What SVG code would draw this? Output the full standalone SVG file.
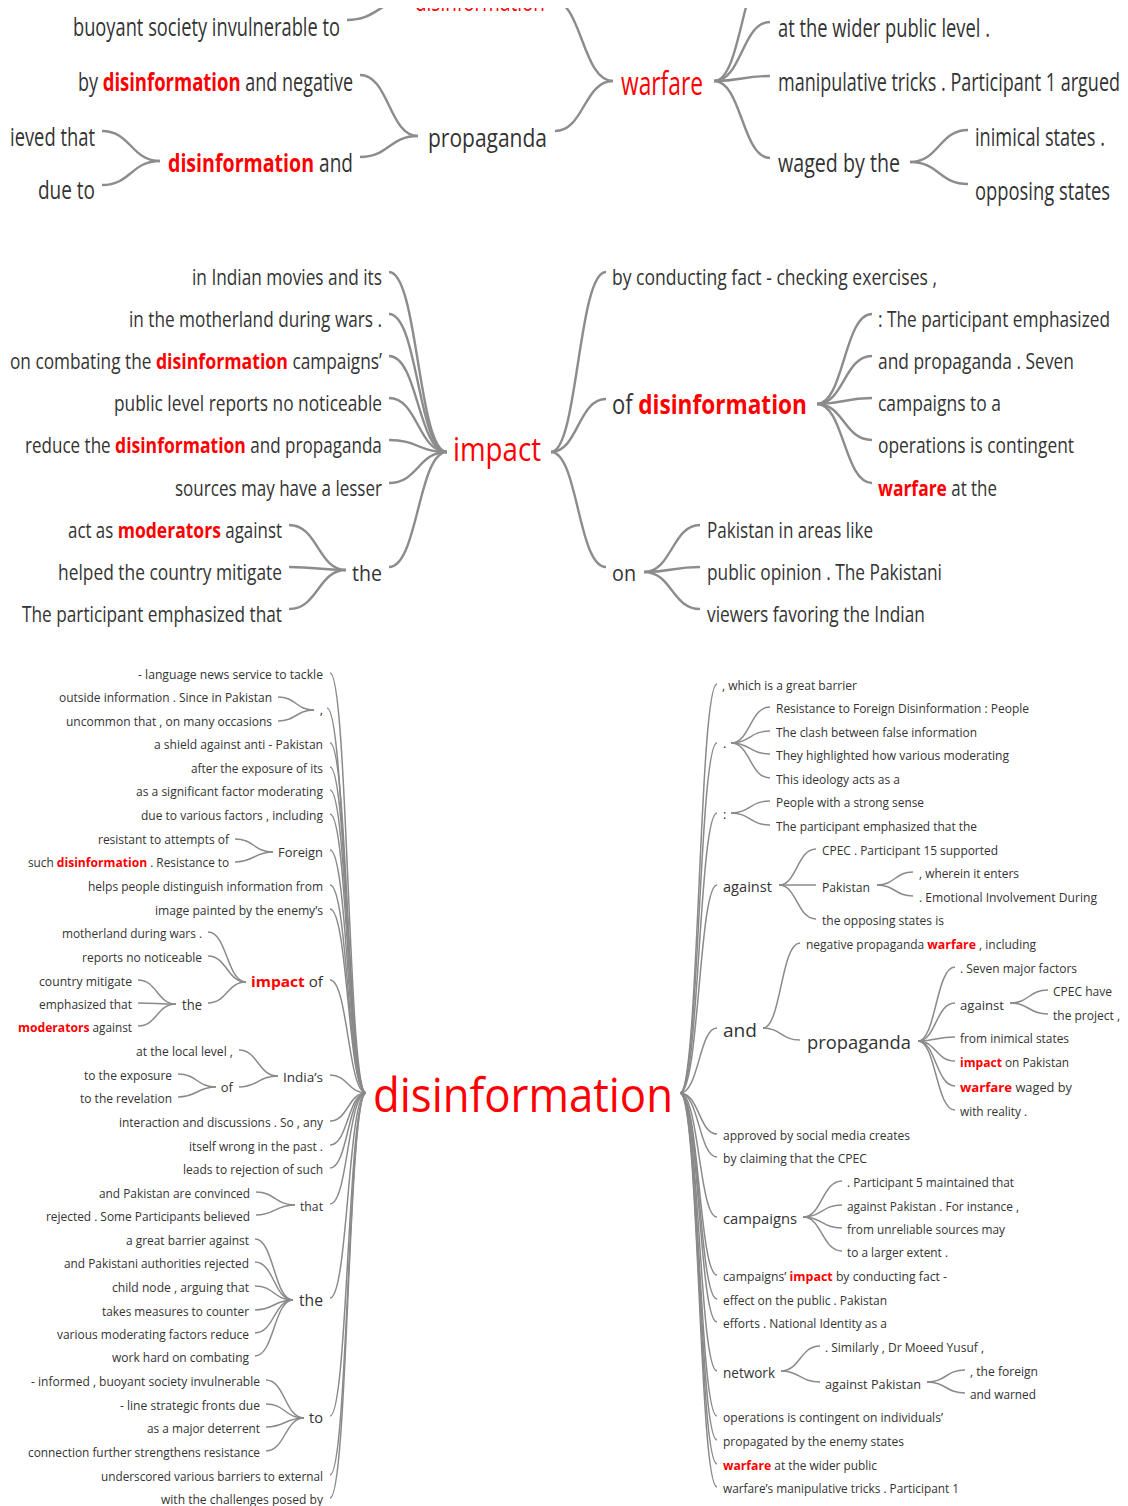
<svg xmlns="http://www.w3.org/2000/svg" width="1128" height="1506" viewBox="0 0 1128 1506">
<style>
text{font-family:"Open Sans","Noto Sans","Liberation Sans",sans-serif;fill:#333}
.e{text-anchor:end}
.p1{font-size:25px}
.p2{font-size:21px}
.s{font-size:12px}
.m13{font-size:13px}
.m14{font-size:14px}
.m15{font-size:15px}
.m19{font-size:19px}
.h{fill:#f00;font-weight:700}
.red{fill:#f00}
.lk path{fill:none;stroke:#8c8c8c;stroke-width:2.4}
.lk3 path{fill:none;stroke:#8a8a8a;stroke-width:1.5}
</style>
<defs>
<clipPath id="c1"><rect x="8" y="8" width="1114" height="198"/></clipPath>
</defs>
<rect width="1128" height="1506" fill="#fff"/>

<!-- PANEL 1 -->
<g clip-path="url(#c1)">
<g class="lk" id="p1-links">
<path d="M347,20 C378,20 378,0 410,0"/>
<path d="M360,75 C389,75 389,136 418,136"/>
<path d="M360,157 C389,157 389,136 418,136"/>
<path d="M102,131 C131,131 131,161 160,161"/>
<path d="M102,185 C131,185 131,161 160,161"/>
<path d="M555,131 C584,131 584,81 613,81"/>
<path d="M552,0 C582,0 582,81 613,81"/>
<path d="M714,81 C742,81 742,-35 770,-35"/>
<path d="M714,81 C742,81 742,22 770,22"/>
<path d="M714,81 C742,81 742,76 770,76"/>
<path d="M714,81 C742,81 742,158 770,158"/>
<path d="M910,162 C939,162 939,130 968,130"/>
<path d="M910,162 C939,162 939,184 968,184"/>
</g>
<g transform="scale(0.74,1)">
<g id="p1-disinformation-top"><text class="p1 red" x="560.81" y="11" textLength="175.68" lengthAdjust="spacingAndGlyphs">disinformation</text></g>
<g id="p1-buoyant"><text class="p1 e" x="459.46" y="36" textLength="360.81" lengthAdjust="spacingAndGlyphs">buoyant society invulnerable to</text></g>
<g id="p1-by-disinformation">
<text class="p1" x="105.41" y="91" textLength="27.03" lengthAdjust="spacingAndGlyphs">by</text>
<text class="p1 h" x="138.78" y="91" textLength="186.35" lengthAdjust="spacingAndGlyphs">disinformation</text>
<text class="p1" x="331.49" y="91" textLength="145.54" lengthAdjust="spacingAndGlyphs">and negative</text>
</g>
<g id="p1-ieved-that"><text class="p1 e" x="128.38" y="146" textLength="114.86" lengthAdjust="spacingAndGlyphs">ieved that</text></g>
<g id="p1-due-to"><text class="p1 e" x="128.38" y="199" textLength="77.03" lengthAdjust="spacingAndGlyphs">due to</text></g>
<g id="p1-disinformation-and">
<text class="p1 h" x="227.03" y="172" textLength="197.43" lengthAdjust="spacingAndGlyphs">disinformation</text>
<text class="p1" x="431.22" y="172" textLength="45.81" lengthAdjust="spacingAndGlyphs">and</text>
</g>
<g id="p1-propaganda"><text class="p1" x="578.38" y="147" textLength="160.81" lengthAdjust="spacingAndGlyphs">propaganda</text></g>
<g id="p1-warfare"><text class="red" style="font-size:33px" x="839.19" y="95" textLength="110.81" lengthAdjust="spacingAndGlyphs">warfare</text></g>
<g id="p1-wider"><text class="p1" x="1051.35" y="37" textLength="286.49" lengthAdjust="spacingAndGlyphs">at the wider public level .</text></g>
<g id="p1-manipulative"><text class="p1" x="1051.35" y="91" textLength="462.16" lengthAdjust="spacingAndGlyphs">manipulative tricks . Participant 1 argued</text></g>
<g id="p1-waged"><text class="p1" x="1051.35" y="172" textLength="164.86" lengthAdjust="spacingAndGlyphs">waged by the</text></g>
<g id="p1-inimical"><text class="p1" x="1317.57" y="146" textLength="175.68" lengthAdjust="spacingAndGlyphs">inimical states .</text></g>
<g id="p1-opposing"><text class="p1" x="1317.57" y="200" textLength="182.43" lengthAdjust="spacingAndGlyphs">opposing states</text></g>
</g>
</g>

<!-- PANEL 2 -->
<g class="lk" id="p2-links">
<path d="M389,272 C418,272 418,452 447,452"/>
<path d="M389,314 C418,314 418,452 447,452"/>
<path d="M389,356 C418,356 418,452 447,452"/>
<path d="M389,398 C418,398 418,452 447,452"/>
<path d="M389,440 C418,440 418,452 447,452"/>
<path d="M389,483 C418,483 418,452 447,452"/>
<path d="M389,567 C418,567 418,452 447,452"/>
<path d="M289,525 C318,525 318,570 346,570"/>
<path d="M289,567 C318,567 318,570 346,570"/>
<path d="M289,609 C318,609 318,570 346,570"/>
<path d="M551,452 C578,452 578,272 606,272"/>
<path d="M551,452 C578,452 578,399 606,399"/>
<path d="M551,452 C578,452 578,567 606,567"/>
<path d="M817,404 C844,404 844,314 872,314"/>
<path d="M817,404 C844,404 844,356 872,356"/>
<path d="M817,404 C844,404 844,398 872,398"/>
<path d="M817,404 C844,404 844,440 872,440"/>
<path d="M817,404 C844,404 844,483 872,483"/>
<path d="M644,572 C672,572 672,525 700,525"/>
<path d="M644,572 C672,572 672,567 700,567"/>
<path d="M644,572 C672,572 672,609 700,609"/>
</g>
<g transform="scale(0.81,1)">
<g id="p2-indian-movies"><text class="p2 e" x="471.60" y="285" textLength="234.57" lengthAdjust="spacingAndGlyphs">in Indian movies and its</text></g>
<g id="p2-motherland"><text class="p2 e" x="471.60" y="327" textLength="312.35" lengthAdjust="spacingAndGlyphs">in the motherland during wars .</text></g>
<g id="p2-combating">
<text class="p2" x="12.35" y="369" textLength="174.57" lengthAdjust="spacingAndGlyphs">on combating the</text>
<text class="p2 h" x="192.47" y="369" textLength="162.96" lengthAdjust="spacingAndGlyphs">disinformation</text>
<text class="p2" x="360.99" y="369" textLength="110.49" lengthAdjust="spacingAndGlyphs">campaigns’</text>
</g>
<g id="p2-public-level"><text class="p2 e" x="471.60" y="411" textLength="330.86" lengthAdjust="spacingAndGlyphs">public level reports no noticeable</text></g>
<g id="p2-reduce">
<text class="p2" x="30.86" y="453" textLength="105.80" lengthAdjust="spacingAndGlyphs">reduce the</text>
<text class="p2 h" x="142.10" y="453" textLength="161.48" lengthAdjust="spacingAndGlyphs">disinformation</text>
<text class="p2" x="309.01" y="453" textLength="162.35" lengthAdjust="spacingAndGlyphs">and propaganda</text>
</g>
<g id="p2-sources"><text class="p2 e" x="471.60" y="496" textLength="255.56" lengthAdjust="spacingAndGlyphs">sources may have a lesser</text></g>
<g id="p2-act-as">
<text class="p2" x="83.95" y="538" textLength="55.93" lengthAdjust="spacingAndGlyphs">act as</text>
<text class="p2 h" x="145.31" y="538" textLength="127.41" lengthAdjust="spacingAndGlyphs">moderators</text>
<text class="p2" x="278.15" y="538" textLength="70.0" lengthAdjust="spacingAndGlyphs">against</text>
</g>
<g id="p2-helped"><text class="p2 e" x="348.15" y="580" textLength="276.54" lengthAdjust="spacingAndGlyphs">helped the country mitigate</text></g>
<g id="p2-participant"><text class="p2 e" x="348.15" y="622" textLength="320.99" lengthAdjust="spacingAndGlyphs">The participant emphasized that</text></g>
<g id="p2-the"><text class="p2 e" x="471.60" y="581" textLength="37.04" lengthAdjust="spacingAndGlyphs">the</text></g>
<g id="p2-impact"><text class="red" style="font-size:33px" x="559.26" y="461" textLength="108.64" lengthAdjust="spacingAndGlyphs">impact</text></g>
<g id="p2-by-conducting"><text class="p2" x="755.56" y="285" textLength="401.23" lengthAdjust="spacingAndGlyphs">by conducting fact - checking exercises ,</text></g>
<g id="p2-of-disinformation">
<text style="font-size:27px" x="755.56" y="414" textLength="25.43" lengthAdjust="spacingAndGlyphs">of</text>
<text class="h" style="font-size:27px" x="788.02" y="414" textLength="208.15" lengthAdjust="spacingAndGlyphs">disinformation</text>
</g>
<g id="p2-emphasized"><text class="p2" x="1083.95" y="327" textLength="286.42" lengthAdjust="spacingAndGlyphs">: The participant emphasized</text></g>
<g id="p2-and-propaganda"><text class="p2" x="1083.95" y="369" textLength="241.98" lengthAdjust="spacingAndGlyphs">and propaganda . Seven</text></g>
<g id="p2-campaigns"><text class="p2" x="1083.95" y="411" textLength="151.85" lengthAdjust="spacingAndGlyphs">campaigns to a</text></g>
<g id="p2-operations"><text class="p2" x="1083.95" y="453" textLength="241.98" lengthAdjust="spacingAndGlyphs">operations is contingent</text></g>
<g id="p2-warfare-at">
<text class="p2 h" x="1083.95" y="496" textLength="85.06" lengthAdjust="spacingAndGlyphs">warfare</text>
<text class="p2" x="1174.44" y="496" textLength="56.42" lengthAdjust="spacingAndGlyphs">at the</text>
</g>
<g id="p2-on"><text class="p2" x="755.56" y="581" textLength="29.63" lengthAdjust="spacingAndGlyphs">on</text></g>
<g id="p2-pakistan-areas"><text class="p2" x="872.84" y="538" textLength="204.94" lengthAdjust="spacingAndGlyphs">Pakistan in areas like</text></g>
<g id="p2-public-opinion"><text class="p2" x="872.84" y="580" textLength="290.12" lengthAdjust="spacingAndGlyphs">public opinion . The Pakistani</text></g>
<g id="p2-viewers"><text class="p2" x="872.84" y="622" textLength="269.14" lengthAdjust="spacingAndGlyphs">viewers favoring the Indian</text></g>
</g>

<!-- PANEL 3 -->
<g class="lk3" id="p3-links">
<path d="M330,673 C348,673 348,1093 366,1093"/>
<path d="M327,708 C346,708 346,1093 366,1093"/>
<path d="M330,743 C348,743 348,1093 366,1093"/>
<path d="M330,767 C348,767 348,1093 366,1093"/>
<path d="M330,790 C348,790 348,1093 366,1093"/>
<path d="M330,814 C348,814 348,1093 366,1093"/>
<path d="M330,850 C348,850 348,1093 366,1093"/>
<path d="M330,885 C348,885 348,1093 366,1093"/>
<path d="M330,909 C348,909 348,1093 366,1093"/>
<path d="M330,980 C348,980 348,1093 366,1093"/>
<path d="M330,1075 C348,1075 348,1093 366,1093"/>
<path d="M330,1121 C348,1121 348,1093 366,1093"/>
<path d="M330,1145 C348,1145 348,1093 366,1093"/>
<path d="M330,1168 C348,1168 348,1093 366,1093"/>
<path d="M330,1204 C348,1204 348,1093 366,1093"/>
<path d="M330,1298 C348,1298 348,1093 366,1093"/>
<path d="M330,1416 C348,1416 348,1093 366,1093"/>
<path d="M330,1475 C348,1475 348,1093 366,1093"/>
<path d="M330,1498 C348,1498 348,1093 366,1093"/>
<path d="M278,697 C296,697 296,710 314,710"/>
<path d="M278,721 C296,721 296,710 314,710"/>
<path d="M235,839 C254,839 254,852 273,852"/>
<path d="M235,862 C254,862 254,852 273,852"/>
<path d="M208,932 C227,932 227,982 246,982"/>
<path d="M208,956 C227,956 227,982 246,982"/>
<path d="M208,1003 C227,1003 227,982 246,982"/>
<path d="M138,980 C157,980 157,1004 176,1004"/>
<path d="M138,1003 C157,1003 157,1004 176,1004"/>
<path d="M138,1026 C157,1026 157,1004 176,1004"/>
<path d="M239,1050 C258,1050 258,1076 278,1076"/>
<path d="M239,1087 C258,1087 258,1076 278,1076"/>
<path d="M178,1074 C197,1074 197,1087 216,1087"/>
<path d="M178,1097 C197,1097 197,1087 216,1087"/>
<path d="M256,1192 C275,1192 275,1205 295,1205"/>
<path d="M256,1215 C275,1215 275,1205 295,1205"/>
<path d="M255,1239 C274,1239 274,1300 293,1300"/>
<path d="M255,1262 C274,1262 274,1300 293,1300"/>
<path d="M255,1286 C274,1286 274,1300 293,1300"/>
<path d="M255,1310 C274,1310 274,1300 293,1300"/>
<path d="M255,1333 C274,1333 274,1300 293,1300"/>
<path d="M255,1356 C274,1356 274,1300 293,1300"/>
<path d="M266,1380 C285,1380 285,1418 304,1418"/>
<path d="M266,1404 C285,1404 285,1418 304,1418"/>
<path d="M266,1427 C285,1427 285,1418 304,1418"/>
<path d="M266,1451 C285,1451 285,1418 304,1418"/>

<path d="M680,1093 C699,1093 699,684 717,684"/>
<path d="M680,1093 C699,1093 699,743 717,743"/>
<path d="M680,1093 C699,1093 699,813 717,813"/>
<path d="M680,1093 C699,1093 699,885 717,885"/>
<path d="M680,1093 C699,1093 699,1028 717,1028"/>
<path d="M680,1093 C699,1093 699,1134 717,1134"/>
<path d="M680,1093 C699,1093 699,1157 717,1157"/>
<path d="M680,1093 C699,1093 699,1217 717,1217"/>
<path d="M680,1093 C699,1093 699,1275 717,1275"/>
<path d="M680,1093 C699,1093 699,1299 717,1299"/>
<path d="M680,1093 C699,1093 699,1322 717,1322"/>
<path d="M680,1093 C699,1093 699,1371 717,1371"/>
<path d="M680,1093 C699,1093 699,1416 717,1416"/>
<path d="M680,1093 C699,1093 699,1440 717,1440"/>
<path d="M680,1093 C699,1093 699,1464 717,1464"/>
<path d="M680,1093 C699,1093 699,1487 717,1487"/>
<path d="M731,743 C750,743 750,707 770,707"/>
<path d="M731,743 C750,743 750,731 770,731"/>
<path d="M731,743 C750,743 750,754 770,754"/>
<path d="M731,743 C750,743 750,778 770,778"/>
<path d="M731,813 C750,813 750,801 770,801"/>
<path d="M731,813 C750,813 750,825 770,825"/>
<path d="M779,885 C797,885 797,849 816,849"/>
<path d="M779,885 C797,885 797,885 816,885"/>
<path d="M779,885 C797,885 797,919 816,919"/>
<path d="M877,885 C895,885 895,872 913,872"/>
<path d="M877,885 C895,885 895,896 913,896"/>
<path d="M763,1028 C781,1028 781,943 800,943"/>
<path d="M763,1028 C781,1028 781,1040 800,1040"/>
<path d="M918,1041 C936,1041 936,967 955,967"/>
<path d="M918,1041 C936,1041 936,1003 955,1003"/>
<path d="M918,1041 C936,1041 936,1037 955,1037"/>
<path d="M918,1041 C936,1041 936,1061 955,1061"/>
<path d="M918,1041 C936,1041 936,1086 955,1086"/>
<path d="M918,1041 C936,1041 936,1110 955,1110"/>
<path d="M1010,1003 C1029,1003 1029,990 1048,990"/>
<path d="M1010,1003 C1029,1003 1029,1014 1048,1014"/>
<path d="M803,1217 C822,1217 822,1181 842,1181"/>
<path d="M803,1217 C822,1217 822,1205 842,1205"/>
<path d="M803,1217 C822,1217 822,1228 842,1228"/>
<path d="M803,1217 C822,1217 822,1251 842,1251"/>
<path d="M781,1371 C800,1371 800,1346 820,1346"/>
<path d="M781,1371 C800,1371 800,1382 820,1382"/>
<path d="M927,1382 C946,1382 946,1370 965,1370"/>
<path d="M927,1382 C946,1382 946,1393 965,1393"/>
</g>

<g id="p3-root"><text class="red" style="font-size:47px" x="373" y="1112" textLength="300" lengthAdjust="spacingAndGlyphs">disinformation</text></g>

<g id="p3-l-language"><text class="s e" x="323" y="679" textLength="185" lengthAdjust="spacingAndGlyphs">- language news service to tackle</text></g>
<g id="p3-l-comma"><text class="m13 e" x="323" y="714">,</text></g>
<g id="p3-l-outside"><text class="s e" x="272" y="702" textLength="213" lengthAdjust="spacingAndGlyphs">outside information . Since in Pakistan</text></g>
<g id="p3-l-uncommon"><text class="s e" x="272" y="726" textLength="206" lengthAdjust="spacingAndGlyphs">uncommon that , on many occasions</text></g>
<g id="p3-l-shield"><text class="s e" x="323" y="749" textLength="169" lengthAdjust="spacingAndGlyphs">a shield against anti - Pakistan</text></g>
<g id="p3-l-after"><text class="s e" x="323" y="773" textLength="132" lengthAdjust="spacingAndGlyphs">after the exposure of its</text></g>
<g id="p3-l-significant"><text class="s e" x="323" y="796" textLength="187" lengthAdjust="spacingAndGlyphs">as a significant factor moderating</text></g>
<g id="p3-l-due"><text class="s e" x="323" y="820" textLength="182" lengthAdjust="spacingAndGlyphs">due to various factors , including</text></g>
<g id="p3-l-foreign"><text class="m13 e" x="323" y="857" textLength="45" lengthAdjust="spacingAndGlyphs">Foreign</text></g>
<g id="p3-l-resistant"><text class="s e" x="229" y="844" textLength="131" lengthAdjust="spacingAndGlyphs">resistant to attempts of</text></g>
<g id="p3-l-such">
<text class="s" x="28" y="867" textLength="25.7" lengthAdjust="spacingAndGlyphs">such</text>
<text class="s h" x="56.8" y="867" textLength="90.3" lengthAdjust="spacingAndGlyphs">disinformation</text>
<text class="s" x="150.2" y="867" textLength="79" lengthAdjust="spacingAndGlyphs">. Resistance to</text>
</g>
<g id="p3-l-helps"><text class="s e" x="323" y="891" textLength="235" lengthAdjust="spacingAndGlyphs">helps people distinguish information from</text></g>
<g id="p3-l-image"><text class="s e" x="323" y="915" textLength="168" lengthAdjust="spacingAndGlyphs">image painted by the enemy’s</text></g>
<g id="p3-l-impact-of">
<text class="m14 h" x="251" y="987" textLength="53.8" lengthAdjust="spacingAndGlyphs">impact</text>
<text class="m14" x="308.7" y="987" textLength="14.2" lengthAdjust="spacingAndGlyphs">of</text>
</g>
<g id="p3-l-motherland"><text class="s e" x="202" y="938" textLength="140" lengthAdjust="spacingAndGlyphs">motherland during wars .</text></g>
<g id="p3-l-reports"><text class="s e" x="202" y="962" textLength="120" lengthAdjust="spacingAndGlyphs">reports no noticeable</text></g>
<g id="p3-l-the1"><text class="m14 e" x="202" y="1010" textLength="20" lengthAdjust="spacingAndGlyphs">the</text></g>
<g id="p3-l-country"><text class="s e" x="132" y="986" textLength="93" lengthAdjust="spacingAndGlyphs">country mitigate</text></g>
<g id="p3-l-emphasized"><text class="s e" x="132" y="1009" textLength="93" lengthAdjust="spacingAndGlyphs">emphasized that</text></g>
<g id="p3-l-moderators">
<text class="s h" x="18" y="1032" textLength="71.6" lengthAdjust="spacingAndGlyphs">moderators</text>
<text class="s" x="92.6" y="1032" textLength="39.4" lengthAdjust="spacingAndGlyphs">against</text>
</g>
<g id="p3-l-indias"><text class="m13 e" x="323" y="1082" textLength="40" lengthAdjust="spacingAndGlyphs">India’s</text></g>
<g id="p3-l-local"><text class="s e" x="233" y="1056" textLength="97" lengthAdjust="spacingAndGlyphs">at the local level ,</text></g>
<g id="p3-l-of"><text class="m13 e" x="233" y="1092">of</text></g>
<g id="p3-l-exposure"><text class="s e" x="172" y="1080" textLength="88" lengthAdjust="spacingAndGlyphs">to the exposure</text></g>
<g id="p3-l-revelation"><text class="s e" x="172" y="1103" textLength="92" lengthAdjust="spacingAndGlyphs">to the revelation</text></g>
<g id="p3-l-interaction"><text class="s e" x="323" y="1127" textLength="204" lengthAdjust="spacingAndGlyphs">interaction and discussions . So , any</text></g>
<g id="p3-l-itself"><text class="s e" x="323" y="1151" textLength="134" lengthAdjust="spacingAndGlyphs">itself wrong in the past .</text></g>
<g id="p3-l-leads"><text class="s e" x="323" y="1174" textLength="140" lengthAdjust="spacingAndGlyphs">leads to rejection of such</text></g>
<g id="p3-l-that"><text class="m13 e" x="323" y="1211" textLength="23" lengthAdjust="spacingAndGlyphs">that</text></g>
<g id="p3-l-convinced"><text class="s e" x="250" y="1198" textLength="151" lengthAdjust="spacingAndGlyphs">and Pakistan are convinced</text></g>
<g id="p3-l-rejected"><text class="s e" x="250" y="1221" textLength="204" lengthAdjust="spacingAndGlyphs">rejected . Some Participants believed</text></g>
<g id="p3-l-the2"><text class="e" style="font-size:17px" x="323" y="1306" textLength="24" lengthAdjust="spacingAndGlyphs">the</text></g>
<g id="p3-l-barrier"><text class="s e" x="249" y="1245" textLength="123" lengthAdjust="spacingAndGlyphs">a great barrier against</text></g>
<g id="p3-l-authorities"><text class="s e" x="249" y="1268" textLength="185" lengthAdjust="spacingAndGlyphs">and Pakistani authorities rejected</text></g>
<g id="p3-l-child"><text class="s e" x="249" y="1292" textLength="137" lengthAdjust="spacingAndGlyphs">child node , arguing that</text></g>
<g id="p3-l-takes"><text class="s e" x="249" y="1316" textLength="147" lengthAdjust="spacingAndGlyphs">takes measures to counter</text></g>
<g id="p3-l-various"><text class="s e" x="249" y="1339" textLength="192" lengthAdjust="spacingAndGlyphs">various moderating factors reduce</text></g>
<g id="p3-l-work"><text class="s e" x="249" y="1362" textLength="137" lengthAdjust="spacingAndGlyphs">work hard on combating</text></g>
<g id="p3-l-to"><text class="m15 e" x="323" y="1423" textLength="14" lengthAdjust="spacingAndGlyphs">to</text></g>
<g id="p3-l-informed"><text class="s e" x="260" y="1386" textLength="229" lengthAdjust="spacingAndGlyphs">- informed , buoyant society invulnerable</text></g>
<g id="p3-l-line"><text class="s e" x="260" y="1410" textLength="140" lengthAdjust="spacingAndGlyphs">- line strategic fronts due</text></g>
<g id="p3-l-deterrent"><text class="s e" x="260" y="1433" textLength="113" lengthAdjust="spacingAndGlyphs">as a major deterrent</text></g>
<g id="p3-l-connection"><text class="s e" x="260" y="1457" textLength="232" lengthAdjust="spacingAndGlyphs">connection further strengthens resistance</text></g>
<g id="p3-l-underscored"><text class="s e" x="323" y="1481" textLength="222" lengthAdjust="spacingAndGlyphs">underscored various barriers to external</text></g>
<g id="p3-l-challenges"><text class="s e" x="323" y="1504" textLength="162" lengthAdjust="spacingAndGlyphs">with the challenges posed by</text></g>

<g id="p3-r-which"><text class="s" x="722" y="690" textLength="135" lengthAdjust="spacingAndGlyphs">, which is a great barrier</text></g>
<g id="p3-r-dot"><text class="m13" x="723" y="748">.</text></g>
<g id="p3-r-resistance"><text class="s" x="776" y="713" textLength="253" lengthAdjust="spacingAndGlyphs">Resistance to Foreign Disinformation : People</text></g>
<g id="p3-r-clash"><text class="s" x="776" y="737" textLength="201" lengthAdjust="spacingAndGlyphs">The clash between false information</text></g>
<g id="p3-r-highlighted"><text class="s" x="776" y="760" textLength="233" lengthAdjust="spacingAndGlyphs">They highlighted how various moderating</text></g>
<g id="p3-r-ideology"><text class="s" x="776" y="784" textLength="124" lengthAdjust="spacingAndGlyphs">This ideology acts as a</text></g>
<g id="p3-r-colon"><text class="m13" x="723" y="819">:</text></g>
<g id="p3-r-people"><text class="s" x="776" y="807" textLength="148" lengthAdjust="spacingAndGlyphs">People with a strong sense</text></g>
<g id="p3-r-participant"><text class="s" x="776" y="831" textLength="201" lengthAdjust="spacingAndGlyphs">The participant emphasized that the</text></g>
<g id="p3-r-against"><text class="m15" x="723" y="892" textLength="49" lengthAdjust="spacingAndGlyphs">against</text></g>
<g id="p3-r-cpec15"><text class="s" x="822" y="855" textLength="176" lengthAdjust="spacingAndGlyphs">CPEC . Participant 15 supported</text></g>
<g id="p3-r-pakistan"><text class="m13" x="822" y="892" textLength="48" lengthAdjust="spacingAndGlyphs">Pakistan</text></g>
<g id="p3-r-opposing"><text class="s" x="822" y="925" textLength="122" lengthAdjust="spacingAndGlyphs">the opposing states is</text></g>
<g id="p3-r-wherein"><text class="s" x="919" y="878" textLength="100" lengthAdjust="spacingAndGlyphs">, wherein it enters</text></g>
<g id="p3-r-emotional"><text class="s" x="919" y="902" textLength="178" lengthAdjust="spacingAndGlyphs">. Emotional Involvement During</text></g>
<g id="p3-r-and"><text class="m19" x="723" y="1037" textLength="34" lengthAdjust="spacingAndGlyphs">and</text></g>
<g id="p3-r-negative">
<text class="s" x="806" y="949" textLength="118.2" lengthAdjust="spacingAndGlyphs">negative propaganda</text>
<text class="s h" x="927.3" y="949" textLength="48.7" lengthAdjust="spacingAndGlyphs">warfare</text>
<text class="s" x="979.1" y="949" textLength="57" lengthAdjust="spacingAndGlyphs">, including</text>
</g>
<g id="p3-r-propaganda"><text class="m19" x="807" y="1049" textLength="104" lengthAdjust="spacingAndGlyphs">propaganda</text></g>
<g id="p3-r-seven"><text class="s" x="960" y="973" textLength="117" lengthAdjust="spacingAndGlyphs">. Seven major factors</text></g>
<g id="p3-r-against2"><text class="m13" x="960" y="1010" textLength="44" lengthAdjust="spacingAndGlyphs">against</text></g>
<g id="p3-r-cpec-have"><text class="s" x="1053" y="996" textLength="59" lengthAdjust="spacingAndGlyphs">CPEC have</text></g>
<g id="p3-r-project"><text class="s" x="1053" y="1020" textLength="67" lengthAdjust="spacingAndGlyphs">the project ,</text></g>
<g id="p3-r-inimical"><text class="s" x="960" y="1043" textLength="109" lengthAdjust="spacingAndGlyphs">from inimical states</text></g>
<g id="p3-r-impact-on">
<text class="s h" x="960" y="1067" textLength="41.9" lengthAdjust="spacingAndGlyphs">impact</text>
<text class="s" x="1005" y="1067" textLength="64" lengthAdjust="spacingAndGlyphs">on Pakistan</text>
</g>
<g id="p3-r-warfare-waged">
<text class="s h" x="960" y="1092" textLength="52.1" lengthAdjust="spacingAndGlyphs">warfare</text>
<text class="s" x="1015.4" y="1092" textLength="56.6" lengthAdjust="spacingAndGlyphs">waged by</text>
</g>
<g id="p3-r-reality"><text class="s" x="960" y="1116" textLength="67" lengthAdjust="spacingAndGlyphs">with reality .</text></g>
<g id="p3-r-approved"><text class="s" x="723" y="1140" textLength="187" lengthAdjust="spacingAndGlyphs">approved by social media creates</text></g>
<g id="p3-r-claiming"><text class="s" x="723" y="1163" textLength="144" lengthAdjust="spacingAndGlyphs">by claiming that the CPEC</text></g>
<g id="p3-r-campaigns"><text class="m15" x="723" y="1224" textLength="74" lengthAdjust="spacingAndGlyphs">campaigns</text></g>
<g id="p3-r-participant5"><text class="s" x="847" y="1187" textLength="167" lengthAdjust="spacingAndGlyphs">. Participant 5 maintained that</text></g>
<g id="p3-r-instance"><text class="s" x="847" y="1211" textLength="172" lengthAdjust="spacingAndGlyphs">against Pakistan . For instance ,</text></g>
<g id="p3-r-unreliable"><text class="s" x="847" y="1234" textLength="158" lengthAdjust="spacingAndGlyphs">from unreliable sources may</text></g>
<g id="p3-r-larger"><text class="s" x="847" y="1257" textLength="101" lengthAdjust="spacingAndGlyphs">to a larger extent .</text></g>
<g id="p3-r-campaigns-impact">
<text class="s" x="723" y="1281" textLength="63.3" lengthAdjust="spacingAndGlyphs">campaigns’</text>
<text class="s h" x="789.5" y="1281" textLength="43.2" lengthAdjust="spacingAndGlyphs">impact</text>
<text class="s" x="835.9" y="1281" textLength="111.1" lengthAdjust="spacingAndGlyphs">by conducting fact -</text>
</g>
<g id="p3-r-effect"><text class="s" x="723" y="1305" textLength="164" lengthAdjust="spacingAndGlyphs">effect on the public . Pakistan</text></g>
<g id="p3-r-efforts"><text class="s" x="723" y="1328" textLength="164" lengthAdjust="spacingAndGlyphs">efforts . National Identity as a</text></g>
<g id="p3-r-network"><text class="m15" x="723" y="1378" textLength="52" lengthAdjust="spacingAndGlyphs">network</text></g>
<g id="p3-r-similarly"><text class="s" x="825" y="1352" textLength="159" lengthAdjust="spacingAndGlyphs">. Similarly , Dr Moeed Yusuf ,</text></g>
<g id="p3-r-against-pakistan"><text class="m13" x="825" y="1389" textLength="96" lengthAdjust="spacingAndGlyphs">against Pakistan</text></g>
<g id="p3-r-foreign"><text class="s" x="970" y="1376" textLength="68" lengthAdjust="spacingAndGlyphs">, the foreign</text></g>
<g id="p3-r-warned"><text class="s" x="970" y="1399" textLength="66" lengthAdjust="spacingAndGlyphs">and warned</text></g>
<g id="p3-r-operations"><text class="s" x="723" y="1422" textLength="220" lengthAdjust="spacingAndGlyphs">operations is contingent on individuals’</text></g>
<g id="p3-r-propagated"><text class="s" x="723" y="1446" textLength="181" lengthAdjust="spacingAndGlyphs">propagated by the enemy states</text></g>
<g id="p3-r-warfare-wider">
<text class="s h" x="723" y="1470" textLength="48.2" lengthAdjust="spacingAndGlyphs">warfare</text>
<text class="s" x="774.3" y="1470" textLength="102.7" lengthAdjust="spacingAndGlyphs">at the wider public</text>
</g>
<g id="p3-r-warfares"><text class="s" x="723" y="1493" textLength="236" lengthAdjust="spacingAndGlyphs">warfare’s manipulative tricks . Participant 1</text></g>
</svg>
